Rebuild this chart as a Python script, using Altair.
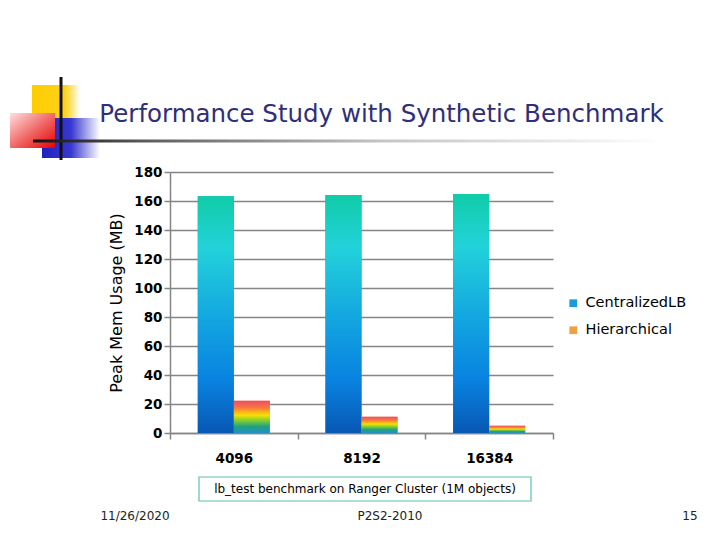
import altair as alt
import pandas as pd

# ---- data ----
procs = ["4096", "8192", "16384"]
series_names = ["CentralizedLB", "Hierarchical"]
centralized_mb = [163.2, 164.1, 164.8]
hierarchical_mb = [22.2, 11.2, 5.0]
y_ticks = [0, 20, 40, 60, 80, 100, 120, 140, 160, 180]

rows = []
for p, c, h in zip(procs, centralized_mb, hierarchical_mb):
    rows.append({"procs": p, "series": series_names[0], "mb": c})
    rows.append({"procs": p, "series": series_names[1], "mb": h})
df = pd.DataFrame(rows)

FONT = "DejaVu Sans"

grad_central = alt.Gradient(
    gradient="linear", x1=0, y1=0, x2=0, y2=1,
    stops=[
        alt.GradientStop(color="#10CCA8", offset=0),
        alt.GradientStop(color="#22D2DA", offset=0.22),
        alt.GradientStop(color="#14A8E0", offset=0.5),
        alt.GradientStop(color="#0882E0", offset=0.78),
        alt.GradientStop(color="#0858B4", offset=1),
    ],
)
grad_hier = alt.Gradient(
    gradient="linear", x1=0, y1=0, x2=0, y2=1,
    stops=[
        alt.GradientStop(color="#F04A6E", offset=0),
        alt.GradientStop(color="#F87A3C", offset=0.22),
        alt.GradientStop(color="#F8E000", offset=0.45),
        alt.GradientStop(color="#88D030", offset=0.6),
        alt.GradientStop(color="#20A080", offset=0.8),
        alt.GradientStop(color="#2090C8", offset=1),
    ],
)

x_enc = alt.X(
    "procs:N", sort=procs, title=None,
    scale=alt.Scale(paddingInner=0, paddingOuter=0),
    axis=alt.Axis(
        labelFont=FONT, labelFontSize=13.5, labelFontWeight="bold",
        labelColor="#000000", labelAngle=0,
        labelPadding=12, domainColor="#858585", domainWidth=1.5,
        tickColor="#858585", tickWidth=1.5, tickSize=6, tickBand="extent",
        grid=False,
    ),
)
xo_enc = alt.XOffset("series:N", sort=series_names,
                     scale=alt.Scale(paddingInner=0, paddingOuter=0.77))
y_enc = alt.Y(
    "mb:Q",
    scale=alt.Scale(domain=[0, 180], nice=False),
    axis=alt.Axis(
        values=y_ticks, title="Peak Mem Usage (MB)",
        titleFont=FONT, titleFontSize=16, titleFontWeight="normal", titleColor="#000000",
        titlePadding=9,
        labelFont=FONT, labelFontSize=13.5, labelFontWeight="bold",
        labelColor="#000000", labelPadding=2,
        domainColor="#858585", domainWidth=1.5,
        tickColor="#858585", tickWidth=1.5, tickSize=6,
        grid=True, gridColor="#858585", gridWidth=1.5,
    ),
)

base = alt.Chart(df).mark_bar().encode(
    x=x_enc, xOffset=xo_enc, y=y_enc,
    color=alt.Color(
        "series:N", sort=series_names,
        scale=alt.Scale(domain=series_names, range=["#1A9AD8", "#F0A040"]),
        legend=alt.Legend(
            title=None, orient="none", legendX=396, legendY=124,
            symbolType="square", symbolSize=60, symbolStrokeWidth=0,
            labelFont=FONT, labelFontSize=14.5, labelColor="#000000",
            rowPadding=12, labelOffset=5,
        ),
    ),
)

over_c = alt.Chart(df).transform_filter(
    alt.datum.series == series_names[0]
).mark_bar(fill=grad_central).encode(x=x_enc, xOffset=xo_enc, y=y_enc)

over_h = alt.Chart(df).transform_filter(
    alt.datum.series == series_names[1]
).mark_bar(fill=grad_hier).encode(x=x_enc, xOffset=xo_enc, y=y_enc)

one = pd.DataFrame({"d": [0]})

# slide decoration (logo squares and title underline)
yellow = alt.Chart(one).mark_rect(fill=alt.Gradient(
    gradient="linear", x1=0, y1=0, x2=1, y2=0,
    stops=[alt.GradientStop(color="#FFCC00", offset=0),
           alt.GradientStop(color="#FFD21A", offset=0.7),
           alt.GradientStop(color="#FFFFFF", offset=1)])).encode(
    x=alt.value(-138), x2=alt.value(-90), y=alt.value(-87), y2=alt.value(-52))
blue = alt.Chart(one).mark_rect(fill=alt.Gradient(
    gradient="linear", x1=0, y1=0, x2=1, y2=0,
    stops=[alt.GradientStop(color="#2020C0", offset=0),
           alt.GradientStop(color="#3838D0", offset=0.5),
           alt.GradientStop(color="#FFFFFF", offset=1)])).encode(
    x=alt.value(-128), x2=alt.value(-70), y=alt.value(-54), y2=alt.value(-14))
red = alt.Chart(one).mark_rect(fill=alt.Gradient(
    gradient="linear", x1=0, y1=0, x2=1, y2=1,
    stops=[alt.GradientStop(color="#FFE0E0", offset=0),
           alt.GradientStop(color="#F06060", offset=0.55),
           alt.GradientStop(color="#E80000", offset=1)])).encode(
    x=alt.value(-160), x2=alt.value(-115), y=alt.value(-59), y2=alt.value(-24))
vline = alt.Chart(one).mark_rule(color="#111111", strokeWidth=3).encode(
    x=alt.value(-109), y=alt.value(-95), y2=alt.value(-12))
hline = alt.Chart(one).mark_rect(fill=alt.Gradient(
    gradient="linear", x1=0, y1=0, x2=1, y2=0,
    stops=[alt.GradientStop(color="#111111", offset=0),
           alt.GradientStop(color="#606060", offset=0.19),
           alt.GradientStop(color="#C4C4C4", offset=0.55),
           alt.GradientStop(color="#EEEEEE", offset=0.88),
           alt.GradientStop(color="#FFFFFF", offset=1)])).encode(
    x=alt.value(-137), x2=alt.value(492), y=alt.value(-32.5), y2=alt.value(-29.5))

# x-axis caption box and slide footer
box = alt.Chart(one).mark_rect(fill="#FFFFFF", stroke="#5CC0B0", strokeWidth=1.2).encode(
    x=alt.value(29), x2=alt.value(361), y=alt.value(305), y2=alt.value(329))
caption = alt.Chart(one).mark_text(font=FONT, fontSize=12, color="#000000").encode(
    x=alt.value(195), y=alt.value(317),
    text=alt.value("lb_test benchmark on Ranger Cluster  (1M objects)"))
footer_date = alt.Chart(one).mark_text(font=FONT, fontSize=12, color="#222222").encode(
    x=alt.value(-35), y=alt.value(344), text=alt.value("11/26/2020"))
footer_conf = alt.Chart(one).mark_text(font=FONT, fontSize=12, color="#222222").encode(
    x=alt.value(220), y=alt.value(344), text=alt.value("P2S2-2010"))
footer_page = alt.Chart(one).mark_text(font=FONT, fontSize=12, color="#222222").encode(
    x=alt.value(520), y=alt.value(344), text=alt.value("15"))

chart = alt.layer(
    yellow, blue, red, vline, hline,
    base, over_c, over_h,
    box, caption, footer_date, footer_conf, footer_page,
).properties(
    width=383, height=261,
    title=alt.Title(
        "Performance Study with Synthetic Benchmark",
        font=FONT, fontSize=24.5, fontWeight="normal", color="#2E2E7A",
        anchor="middle", dx=20, dy=92, offset=40,
    ),
    autosize=alt.AutoSizeParams(type="none"),
    padding={"left": 162, "top": 164, "right": 159, "bottom": 95},
).configure_view(stroke=None)

chart.save("out.html", embed_options={"renderer": "svg", "actions": False})
